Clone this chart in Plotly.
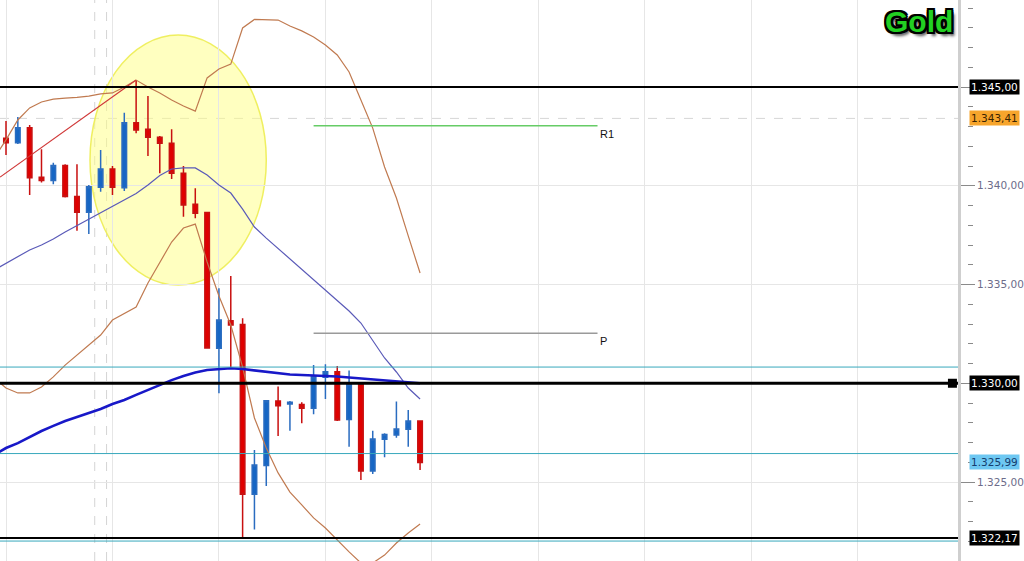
import plotly.graph_objects as go

# ---------------- data (gold, prices in USD) ----------------
idx = list(range(36))
open_ = [1342.40, 1342.18, 1342.94, 1340.43, 1340.26, 1341.02, 1339.45, 1338.66, 1339.92, 1340.85,
         1339.90, 1343.19, 1342.86, 1342.45, 1342.15, 1340.63, 1339.06, 1338.65, 1331.77, 1333.17,
         1332.98, 1324.38, 1325.83, 1329.10, 1328.95, 1328.93, 1328.73, 1330.30, 1330.58, 1328.17,
         1329.95, 1325.56, 1327.16, 1327.38, 1327.67, 1328.09]
high = [1343.28, 1343.48, 1343.08, 1341.85, 1341.17, 1341.09, 1341.09, 1340.04, 1341.81, 1341.00,
        1343.70, 1345.35, 1344.54, 1342.52, 1342.86, 1341.00, 1339.87, 1338.67, 1334.81, 1335.43,
        1333.29, 1326.62, 1329.15, 1329.83, 1329.10, 1329.04, 1330.92, 1330.96, 1330.87, 1330.64,
        1330.01, 1327.60, 1327.47, 1329.07, 1328.65, 1328.09]
low = [1341.56, 1342.11, 1339.53, 1340.17, 1340.07, 1339.41, 1337.72, 1337.56, 1339.70, 1339.53,
       1339.73, 1342.66, 1341.51, 1340.63, 1340.34, 1338.43, 1338.35, 1331.76, 1329.49, 1330.76,
       1322.18, 1322.60, 1324.80, 1327.33, 1327.60, 1327.97, 1328.43, 1329.20, 1328.09, 1326.79,
       1325.10, 1325.41, 1326.25, 1327.24, 1326.79, 1325.61]
close = [1342.18, 1342.94, 1340.41, 1340.26, 1341.02, 1339.45, 1338.66, 1339.95, 1340.85, 1339.92,
         1343.19, 1342.82, 1342.45, 1342.15, 1340.63, 1339.03, 1338.61, 1331.79, 1333.20, 1332.95,
         1324.38, 1325.86, 1329.12, 1328.86, 1329.04, 1328.73, 1330.33, 1330.58, 1328.14, 1329.95,
         1325.56, 1327.18, 1327.41, 1327.68, 1328.09, 1325.99]

# indicator lines, indices -1 .. 35
line_idx = list(range(-1, 36))
mid_band = [1335.73, 1336.06, 1336.39, 1336.75, 1337.00, 1337.30, 1337.66, 1337.98, 1338.32, 1338.64,
            1338.97, 1339.30, 1339.61, 1340.04, 1340.52, 1340.85, 1340.91, 1340.90, 1340.54, 1340.04,
            1339.63, 1338.82, 1337.91, 1337.35, 1336.82, 1336.29, 1335.78, 1335.23, 1334.75, 1334.22,
            1333.66, 1333.05, 1332.14, 1331.28, 1330.57, 1329.76, 1329.20]
upper_band = [1341.41, 1342.32, 1343.33, 1343.94, 1344.24, 1344.39, 1344.44, 1344.47, 1344.54, 1344.65,
              1344.70, 1345.00, 1345.35, 1345.00, 1344.70, 1344.34, 1344.04, 1343.78, 1345.46, 1345.91,
              1346.16, 1347.99, 1348.42, 1348.42, 1348.39, 1348.09, 1347.84, 1347.53, 1347.13, 1346.62,
              1345.76, 1344.34, 1342.92, 1340.95, 1339.38, 1337.46, 1335.58]
lower_band = [1330.27, 1329.76, 1329.51, 1329.51, 1329.81, 1330.32, 1330.92, 1331.43, 1331.94, 1332.44,
              1333.20, 1333.51, 1333.86, 1335.08, 1336.14, 1337.15, 1337.86, 1338.06, 1336.14, 1334.42,
              1332.95, 1330.82, 1328.24, 1326.72, 1325.46, 1324.49, 1323.84, 1323.18, 1322.67, 1322.06,
              1321.46, 1320.90, 1320.90, 1321.30, 1321.91, 1322.42, 1322.87]
slow_ma = [1326.37, 1326.72, 1326.97, 1327.28, 1327.58, 1327.84, 1328.09, 1328.29, 1328.49, 1328.70,
           1328.95, 1329.15, 1329.41, 1329.66, 1329.94, 1330.16, 1330.37, 1330.54, 1330.67, 1330.72,
           1330.76, 1330.72, 1330.65, 1330.57, 1330.49, 1330.44, 1330.42, 1330.40, 1330.38, 1330.34,
           1330.29, 1330.24, 1330.19, 1330.14, 1330.07, 1330.04, 1330.00]

trend_x = [-0.5, 11]
trend_y = [1340.44, 1345.35]

black_levels = [1345.00, 1330.00, 1322.17]
teal_levels = [1330.82, 1326.44, 1322.01]
dashed_level = 1343.41
pivot_r1 = 1343.04
pivot_p = 1332.53
pivot_span = [26, 50]
session_breaks = [7.5, 8.5]
ellipse_x = [7.1, 22.0]
ellipse_y = [1334.97, 1347.63]
last_price = 1325.99

tick_vals = [1325, 1330, 1335, 1340, 1345]
tick_text = ["1.325,00", "", "1.335,00", "1.340,00", ""]

y_range = [1321.0, 1349.405]
x_range = [-0.507, 80.47]

W, H = 1024, 561
PLOT_W = 984   # plot area width (paper)
AXIS_PX = 958  # right price axis position

def fmt(v):
    s = f"{v:,.2f}"
    return s.replace(",", "X").replace(".", ",").replace("X", ".")

fig = go.Figure()

# yellow highlight ellipse
fig.add_shape(type="circle", xref="x", yref="y", x0=ellipse_x[0], x1=ellipse_x[1],
              y0=ellipse_y[0], y1=ellipse_y[1], fillcolor="rgba(255,255,130,0.5)",
              line=dict(color="rgba(238,238,90,0.95)", width=1.5), layer="below")

for sb in session_breaks:
    fig.add_shape(type="line", xref="x", yref="paper", x0=sb, x1=sb, y0=0, y1=1,
                  line=dict(color="#d4d4d4", width=1, dash="dash"), layer="below")

fig.add_shape(type="line", xref="x domain", yref="y", x0=0, x1=1, y0=dashed_level, y1=dashed_level,
              line=dict(color="#d6d6d6", width=1, dash="dash"), layer="below")

for lv in teal_levels:
    fig.add_shape(type="line", xref="x domain", yref="y", x0=0, x1=1, y0=lv, y1=lv,
                  line=dict(color="#38a8bc", width=1))

# pivots
fig.add_shape(type="line", xref="x", yref="y", x0=pivot_span[0], x1=pivot_span[1], y0=pivot_r1, y1=pivot_r1,
              line=dict(color="#66cc66", width=1.5))
fig.add_shape(type="line", xref="x", yref="y", x0=pivot_span[0], x1=pivot_span[1], y0=pivot_p, y1=pivot_p,
              line=dict(color="#9a9a9a", width=1.5))

# lines
fig.add_trace(go.Scatter(x=line_idx, y=upper_band, mode="lines", line=dict(color="#c07a50", width=1.2),
                         hoverinfo="skip"))
fig.add_trace(go.Scatter(x=line_idx, y=lower_band, mode="lines", line=dict(color="#c07a50", width=1.2),
                         hoverinfo="skip"))
fig.add_trace(go.Scatter(x=line_idx, y=mid_band, mode="lines", line=dict(color="#5a5ab8", width=1.2),
                         hoverinfo="skip"))
fig.add_trace(go.Scatter(x=line_idx, y=slow_ma, mode="lines", line=dict(color="#1818c8", width=2.6),
                         hoverinfo="skip"))
fig.add_trace(go.Scatter(x=trend_x, y=trend_y, mode="lines", line=dict(color="#d03838", width=1.2),
                         hoverinfo="skip"))

fig.add_trace(go.Candlestick(
    x=idx, open=open_, high=high, low=low, close=close,
    increasing=dict(fillcolor="#1666c4", line=dict(color="#2a6cc0", width=1.5)),
    decreasing=dict(fillcolor="#e00000", line=dict(color="#c81010", width=1.5)),
    whiskerwidth=0, hoverinfo="skip"))

# black levels on top
for i, lv in enumerate(black_levels):
    fig.add_shape(type="line", xref="x domain", yref="y", x0=0, x1=1, y0=lv, y1=lv,
                  line=dict(color="#000000", width=3 if i == 1 else 2))

fig.add_trace(go.Scatter(x=[80], y=[black_levels[1]], mode="markers",
                         marker=dict(symbol="square", size=9, color="#000000"), hoverinfo="skip"))

# y2 (minor ticks)
fig.add_trace(go.Scatter(x=[None], y=[None], yaxis="y2", hoverinfo="skip"))

fig.update_layout(
    width=W, height=H, showlegend=False,
    margin=dict(l=0, r=W - PLOT_W, t=0, b=0),
    paper_bgcolor="white", plot_bgcolor="white",
    separators=",.",
    boxgap=0.45,
    xaxis=dict(domain=[0, AXIS_PX / PLOT_W], range=x_range, showticklabels=False, ticks="",
               showgrid=True, gridcolor="#e6e6e6", gridwidth=1, dtick=9, tick0=0,
               zeroline=False, showline=False, rangeslider=dict(visible=False), fixedrange=True),
    yaxis=dict(side="right", anchor="x", range=y_range, tickvals=tick_vals, ticktext=tick_text,
               showgrid=True, gridcolor="#e6e6e6", gridwidth=1, zeroline=False,
               showline=True, linecolor="#cfcfcf", linewidth=3,
               ticks="outside", ticklen=14, tickcolor="#8a8a8a", tickwidth=1, ticklabelstandoff=0,
               tickfont=dict(family="DejaVu Sans", size=10.5, color="#6c6c8a"), automargin=False),
    yaxis2=dict(overlaying="y", side="right", anchor="free", position=967 / PLOT_W, range=y_range,
                dtick=1, tick0=1320, ticks="outside", ticklen=5, tickcolor="#8a8a8a",
                showticklabels=False, showgrid=False, zeroline=False, showline=False, automargin=False),
)

# right-side price tags
tags = [(1345.00, "#000000", "#ffffff"), (1343.41, "#f7a52c", "#3a2400"),
        (1330.00, "#000000", "#ffffff"), (last_price, "#6ec8f2", "#153d6e"),
        (1322.17, "#000000", "#ffffff")]
for v, bg, fc in tags:
    fig.add_annotation(xref="paper", yref="y", x=969 / PLOT_W, y=v, xanchor="left", yanchor="middle",
                       text=fmt(v), showarrow=False, bgcolor=bg, borderpad=1,
                       font=dict(family="DejaVu Sans", size=10.5, color=fc))

fig.add_annotation(xref="x", yref="y", x=pivot_span[1], y=pivot_r1, xanchor="left", yanchor="top",
                   text="R1", showarrow=False, font=dict(family="Liberation Sans", size=11, color="#111111"))
fig.add_annotation(xref="x", yref="y", x=pivot_span[1], y=pivot_p, xanchor="left", yanchor="top",
                   text="P", showarrow=False, font=dict(family="Liberation Sans", size=11, color="#111111"))

fig.add_annotation(xref="paper", yref="paper", x=955 / PLOT_W, y=1 - 22 / H, xanchor="right", yanchor="middle",
                   text="<b>Gold</b>", showarrow=False,
                   font=dict(family="Liberation Sans", size=30, color="#22d022",
                             shadow="-2px -2px 0 #000, 2px -2px 0 #000, -2px 2px 0 #000, 2px 2px 0 #000, "
                                    "0 -2px 0 #000, 0 2px 0 #000, -2px 0 0 #000, 2px 0 0 #000, 3px 4px 3px #555"))

fig.write_html("out.html", config={"displayModeBar": False},
               post_script="document.body.style.margin='0';document.body.style.padding='0';")
